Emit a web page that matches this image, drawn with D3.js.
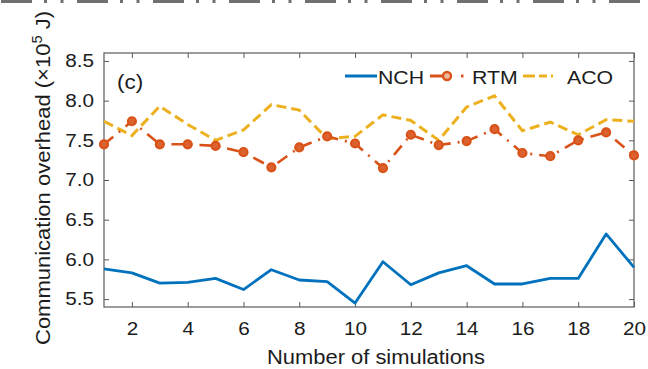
<!DOCTYPE html>
<html>
<head>
<meta charset="utf-8">
<script src="https://cdnjs.cloudflare.com/ajax/libs/d3/7.8.5/d3.min.js"></script>
<style>
	body { margin: 0; background: #fff; }
	text { font-family: "Liberation Sans", Arial, sans-serif; fill: #1c1c1c; }
</style>
</head>
<body>
<div id="container"></div>
<script>
const width = 648;
const height = 369;

// data
const simulations = [1, 2, 3, 4, 5, 6, 7, 8, 9, 10, 11, 12, 13, 14, 15, 16, 17, 18, 19, 20];
const nch = [5.88, 5.83, 5.70, 5.71, 5.76, 5.62, 5.87, 5.74, 5.72, 5.45, 5.97, 5.68, 5.83, 5.92, 5.69, 5.69, 5.76, 5.76, 6.32, 5.90];
const rtm = [7.45, 7.74, 7.45, 7.45, 7.43, 7.35, 7.16, 7.41, 7.55, 7.46, 7.15, 7.57, 7.44, 7.49, 7.64, 7.34, 7.30, 7.50, 7.60, 7.31];
const aco = [7.74, 7.56, 7.93, 7.70, 7.50, 7.63, 7.95, 7.88, 7.52, 7.55, 7.82, 7.75, 7.50, 7.92, 8.06, 7.62, 7.73, 7.57, 7.76, 7.74];
const xTicks = [2, 4, 6, 8, 10, 12, 14, 16, 18, 20];
const yTicks = [5.5, 6.0, 6.5, 7.0, 7.5, 8.0, 8.5];

const blue = "#0072BD", orange = "#D95319", yellow = "#EDB120";
const axisColor = "#5a5a5a";
const stretch = "scale(1.12,1)";

let svg = d3.select("#container")
	.append("svg")
	.attr("width", width)
	.attr("height", height);

const x = d3.scaleLinear().domain([1, 20]).range([104, 634]);
const y = d3.scaleLinear().domain([5.4, 8.6]).range([307, 53]);

// leftover axis of the panel above (cropped at the top edge)
svg.append("line")
	.attr("x1", 0).attr("x2", width)
	.attr("y1", 1.5).attr("y2", 1.5)
	.attr("stroke", "#707070")
	.attr("stroke-width", 3)
	.attr("stroke-dasharray", "31,12,3,13.5,3,13.5")
	.attr("stroke-dashoffset", -1);

// axes, ticks pointing inwards
function styleAxis(g) {
	g.select(".domain").remove();
	g.selectAll(".tick line").attr("stroke", axisColor).attr("stroke-width", 1);
	g.selectAll(".tick text")
		.attr("font-size", 18.5)
		.attr("fill", "#1c1c1c")
		.attr("transform", stretch);
}

svg.append("g")
	.attr("transform", "translate(0,307)")
	.call(d3.axisBottom(x).tickValues(xTicks).tickSizeInner(-5).tickSizeOuter(0).tickPadding(15).tickFormat(d3.format("d")))
	.call(styleAxis);

svg.append("g")
	.attr("transform", "translate(0,53)")
	.call(d3.axisTop(x).tickValues(xTicks).tickSizeInner(-5).tickSizeOuter(0).tickFormat(""))
	.call(styleAxis);

svg.append("g")
	.attr("transform", "translate(104,0)")
	.call(d3.axisLeft(y).tickValues(yTicks).tickSizeInner(-5).tickSizeOuter(0).tickPadding(9).tickFormat(d3.format(".1f")))
	.call(styleAxis);

svg.append("g")
	.attr("transform", "translate(634,0)")
	.call(d3.axisRight(y).tickValues(yTicks).tickSizeInner(-5).tickSizeOuter(0).tickFormat(""))
	.call(styleAxis);

// box
svg.append("rect")
	.attr("x", x(1)).attr("y", y.range()[1])
	.attr("width", x(20) - x(1))
	.attr("height", y.range()[0] - y.range()[1])
	.attr("fill", "none")
	.attr("stroke", axisColor)
	.attr("stroke-width", 1.2);

// lines
const line = d3.line()
	.x((d, i) => x(simulations[i]))
	.y(d => y(d));

svg.append("path")
	.datum(nch)
	.attr("d", line)
	.attr("fill", "none")
	.attr("stroke", blue)
	.attr("stroke-width", 2.8)
	.attr("stroke-linejoin", "round");

svg.append("path")
	.datum(aco)
	.attr("d", line)
	.attr("fill", "none")
	.attr("stroke", yellow)
	.attr("stroke-width", 3)
	.attr("stroke-dasharray", "10,5");

svg.append("path")
	.datum(rtm)
	.attr("d", line)
	.attr("fill", "none")
	.attr("stroke", orange)
	.attr("stroke-width", 2.6)
	.attr("stroke-dasharray", "12,7,2,7");

svg.selectAll(".rtm-dot")
	.data(rtm)
	.enter()
	.append("circle")
	.attr("class", "rtm-dot")
	.attr("cx", (d, i) => x(simulations[i]))
	.attr("cy", d => y(d))
	.attr("r", 4)
	.attr("fill", "#dc6230")
	.attr("stroke", orange)
	.attr("stroke-width", 2.2);

// panel label
svg.append("text")
	.attr("x", 117).attr("y", 89)
	.attr("font-size", 20)
	.attr("transform-origin", "117 89")
	.attr("transform", stretch)
	.text("(c)");

// legend
const legend = svg.append("g");
legend.append("line")
	.attr("x1", 345).attr("x2", 377).attr("y1", 76).attr("y2", 76)
	.attr("stroke", blue).attr("stroke-width", 3);
legend.append("line")
	.attr("x1", 430).attr("x2", 447).attr("y1", 76).attr("y2", 76)
	.attr("stroke", orange).attr("stroke-width", 3);
legend.append("circle")
	.attr("cx", 447).attr("cy", 76).attr("r", 4)
	.attr("fill", "#f4b89c").attr("stroke", orange).attr("stroke-width", 2.4);
legend.append("line")
	.attr("x1", 461).attr("x2", 463.5).attr("y1", 76).attr("y2", 76)
	.attr("stroke", orange).attr("stroke-width", 3);
legend.append("line")
	.attr("x1", 523).attr("x2", 553).attr("y1", 76).attr("y2", 76)
	.attr("stroke", yellow).attr("stroke-width", 3.2)
	.attr("stroke-dasharray", "12,4,8,4");

const legendItems = [["NCH", 378], ["RTM", 472], ["ACO", 567]];
legend.selectAll(".legend-text")
	.data(legendItems)
	.enter()
	.append("text")
	.attr("class", "legend-text")
	.attr("x", d => d[1])
	.attr("y", 84)
	.attr("font-size", 19)
	.attr("transform-origin", d => d[1] + " 84")
	.attr("transform", stretch)
	.text(d => d[0]);

// axis titles
svg.append("text")
	.attr("x", (x(1) + x(20)) / 2 + 7)
	.attr("y", 364)
	.attr("text-anchor", "middle")
	.attr("font-size", 19.5)
	.attr("textLength", 218)
	.attr("lengthAdjust", "spacingAndGlyphs")
	.text("Number of simulations");

let ylab = svg.append("text")
	.attr("transform", "translate(50,178) rotate(-90)")
	.attr("text-anchor", "middle")
	.attr("font-size", 21)
	.attr("textLength", 334)
	.attr("lengthAdjust", "spacingAndGlyphs");
ylab.append("tspan").text("Communication overhead (×10");
ylab.append("tspan").attr("font-size", 14).attr("dy", -8).text("5");
ylab.append("tspan").attr("dy", 8).text(" J)");
</script>
</body>
</html>
